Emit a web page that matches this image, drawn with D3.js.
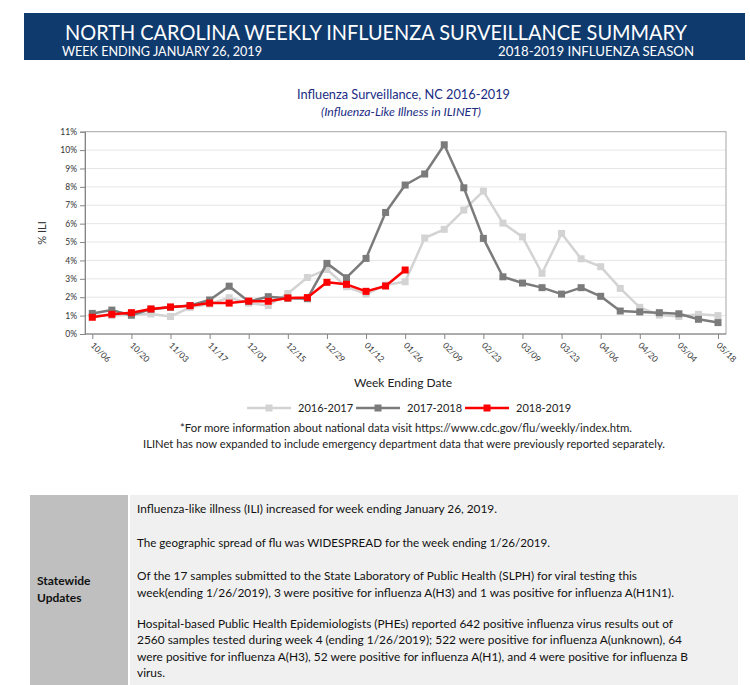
<!DOCTYPE html>
<html>
<head>
<meta charset="utf-8">
<script src="https://cdn.jsdelivr.net/npm/d3@7/dist/d3.min.js"></script>
<style>
  html, body { margin: 0; padding: 0; background: #fff; }
  svg { display: block; font-family: Lato, "Open Sans", sans-serif; }
</style>
</head>
<body>
<svg id="chart" width="750" height="685"></svg>
<script>
// ---------- data ----------
const weeks = ["10/06","10/13","10/20","10/27","11/03","11/10","11/17","11/24","12/01","12/08","12/15","12/22","12/29","01/05","01/12","01/19","01/26","02/02","02/09","02/16","02/23","03/02","03/09","03/16","03/23","03/30","04/06","04/13","04/20","04/27","05/04","05/11","05/18"];
const tickLabels = ["10/06","10/20","11/03","11/17","12/01","12/15","12/29","01/12","01/26","02/09","02/23","03/09","03/23","04/06","04/20","05/04","05/18"];
const yTicks = [0,1,2,3,4,5,6,7,8,9,10,11];

const season1617 = [1.0,1.0,1.05,1.09,0.95,1.45,1.63,1.97,1.68,1.55,2.2,3.07,3.51,2.57,2.17,2.66,2.84,5.22,5.69,6.74,7.77,6.03,5.28,3.3,5.47,4.09,3.66,2.48,1.45,1.03,0.95,1.07,1.0];
const season1718 = [1.12,1.3,1.02,1.35,1.45,1.55,1.85,2.6,1.77,2.03,1.95,1.92,3.84,3.06,4.11,6.61,8.1,8.7,10.29,7.95,5.2,3.11,2.77,2.52,2.17,2.52,2.05,1.25,1.2,1.16,1.1,0.8,0.62];
const season1819 = [0.91,1.07,1.16,1.36,1.47,1.54,1.68,1.68,1.79,1.78,1.96,1.98,2.81,2.7,2.32,2.61,3.48];

const seriesNames = ["2016-2017","2017-2018","2018-2019"];
const seriesColors = ["#d3d3d3","#7b7b7b","#ff0000"];

const headerTitle = "NORTH CAROLINA WEEKLY INFLUENZA SURVEILLANCE SUMMARY";
const headerLeft = "WEEK ENDING JANUARY 26, 2019";
const headerRight = "2018-2019 INFLUENZA SEASON";
const chartTitle = "Influenza Surveillance, NC 2016-2019";
const chartSubtitle = "(Influenza-Like Illness in ILINET)";
const xTitle = "Week Ending Date";
const yTitle = "% ILI";
const footnotes = [
  "*For more information about national data visit https://www.cdc.gov/flu/weekly/index.htm.",
  "ILINet has now expanded to include emergency department data that were previously reported separately."
];
const tableHeader = ["Statewide","Updates"];
const tableLines = [
  "Influenza-like illness (ILI) increased for week ending January 26, 2019.",
  "The geographic spread of flu was WIDESPREAD for the week ending 1/26/2019.",
  "Of the 17 samples submitted to the State Laboratory of Public Health (SLPH) for viral testing this",
  "week(ending 1/26/2019), 3 were positive for influenza A(H3) and 1 was positive for influenza A(H1N1).",
  "Hospital-based Public Health Epidemiologists (PHEs) reported 642 positive influenza virus results out of",
  "2560 samples tested during week 4 (ending 1/26/2019); 522 were positive for influenza A(unknown), 64",
  "were positive for influenza A(H3), 52 were positive for influenza A(H1), and 4 were positive for influenza B",
  "virus."
];

// ---------- layout ----------
const svg = d3.select("#chart");

// header band
svg.append("rect").attr("x",24).attr("y",13).attr("width",721).attr("height",47).attr("fill","#0f3a6d");
svg.append("text").attr("x",65).attr("y",40).attr("fill","#fff").attr("font-size",21)
  .attr("textLength",622).attr("lengthAdjust","spacingAndGlyphs").text(headerTitle);
svg.append("text").attr("x",62).attr("y",56).attr("fill","#fff").attr("font-size",13)
  .attr("textLength",200).attr("lengthAdjust","spacingAndGlyphs").text(headerLeft);
svg.append("text").attr("x",498).attr("y",56).attr("fill","#fff").attr("font-size",13)
  .attr("textLength",196).attr("lengthAdjust","spacingAndGlyphs").text(headerRight);

// chart titles
svg.append("text").attr("x",297).attr("y",99).attr("fill","#202c84").attr("font-size",13.5)
  .attr("textLength",213).attr("lengthAdjust","spacingAndGlyphs").text(chartTitle);
svg.append("text").attr("x",321).attr("y",116).attr("fill","#202c84").attr("font-size",11.5).attr("font-style","italic")
  .attr("textLength",160).attr("lengthAdjust","spacingAndGlyphs").text(chartSubtitle);

// scales
const plot = {left:85, right:726, top:131.7, bottom:334};
const x = d3.scalePoint().domain(weeks).range([92.3, 718]);
const y = d3.scaleLinear().domain([0,11]).range([plot.bottom, plot.top]);

// gridlines
svg.append("g").selectAll("line").data(yTicks.filter(d => d > 0 && d < 11)).join("line")
  .attr("x1",plot.left).attr("x2",plot.right)
  .attr("y1",d => y(d)).attr("y2",d => y(d))
  .attr("stroke","#e6e6e6").attr("stroke-width",1);

// frame
svg.append("rect").attr("x",plot.left).attr("y",plot.top)
  .attr("width",plot.right-plot.left).attr("height",plot.bottom-plot.top)
  .attr("fill","none").attr("stroke","#a6a6a6").attr("stroke-width",1);

// y axis
const yAxis = d3.axisLeft(y).tickValues(yTicks).tickSize(5).tickPadding(3).tickFormat(d => d + "%");
const gy = svg.append("g").attr("transform",`translate(${plot.left},0)`).call(yAxis);
gy.select(".domain").attr("stroke","#868686");
gy.selectAll(".tick line").attr("stroke","#868686");
gy.selectAll(".tick text").attr("font-family","Lato, 'Open Sans', sans-serif").attr("font-size",8.5).attr("fill","#333");

// x axis
const xAxis = d3.axisBottom(x).tickValues(tickLabels).tickSize(5).tickFormat("");
const gx = svg.append("g").attr("transform",`translate(0,${plot.bottom})`).call(xAxis);
gx.select(".domain").attr("stroke","#868686").attr("d",`M${plot.left},0H${plot.right}`);
gx.selectAll(".tick line").attr("stroke","#868686");
svg.append("g").selectAll("text").data(tickLabels).join("text")
  .attr("transform",d => `translate(${x(d)-2},${plot.bottom+12}) rotate(45)`)
  .attr("font-size",8.5).attr("fill","#333").text(d => d);

// axis titles
svg.append("text").attr("transform","translate(46,233) rotate(-90)").attr("text-anchor","middle")
  .attr("font-size",11).attr("fill","#333").text(yTitle);
svg.append("text").attr("x",403).attr("y",387).attr("text-anchor","middle")
  .attr("font-size",12).attr("fill","#222").text(xTitle);

// series
const allSeries = [season1617, season1718, season1819];
const line = d3.line().x((d,i) => x(weeks[i])).y(d => y(d));
allSeries.forEach((vals, si) => {
  const g = svg.append("g");
  g.append("path").datum(vals).attr("d",line).attr("fill","none")
    .attr("stroke",seriesColors[si]).attr("stroke-width",2.5).attr("stroke-linejoin","round");
  g.selectAll("rect").data(vals).join("rect")
    .attr("x",(d,i) => x(weeks[i]) - 3.5).attr("y",d => y(d) - 3.5)
    .attr("width",7).attr("height",7).attr("fill",seriesColors[si]);
});

// legend
const legendX = [247, 356, 465];
seriesNames.forEach((name, i) => {
  const g = svg.append("g").attr("transform",`translate(${legendX[i]},408)`);
  g.append("line").attr("x1",0).attr("x2",44).attr("stroke",seriesColors[i]).attr("stroke-width",2.5);
  g.append("rect").attr("x",18.5).attr("y",-3.5).attr("width",7).attr("height",7).attr("fill",seriesColors[i]);
  g.append("text").attr("x",51).attr("y",4).attr("font-size",11).attr("fill","#222").text(name);
});

// footnotes
const fnX = [180, 143], fnW = [452, 522], fnY = [432, 448];
footnotes.forEach((t, i) => {
  svg.append("text").attr("x",fnX[i]).attr("y",fnY[i]).attr("font-size",11.5).attr("fill","#222")
    .attr("textLength",fnW[i]).attr("lengthAdjust","spacingAndGlyphs").text(t);
});

// table
svg.append("rect").attr("x",30).attr("y",495).attr("width",98).attr("height",190).attr("fill","#bfbfbf");
svg.append("rect").attr("x",130).attr("y",495).attr("width",608).attr("height",190).attr("fill","#f0f0f0");
tableHeader.forEach((t, i) => {
  svg.append("text").attr("x",37).attr("y",585 + i*17).attr("font-size",12).attr("font-weight","bold")
    .attr("fill","#111").text(t);
});
const tlY = [513, 547, 580, 597, 628, 644, 661, 677];
const tlEnd = [497, 550, 637, 674, 673, 682, 688, 165];
tableLines.forEach((t, i) => {
  svg.append("text").attr("x",137).attr("y",tlY[i]).attr("font-size",11.5).attr("fill","#111")
    .attr("textLength",tlEnd[i]-137).attr("lengthAdjust","spacingAndGlyphs").text(t);
});
</script>
</body>
</html>
